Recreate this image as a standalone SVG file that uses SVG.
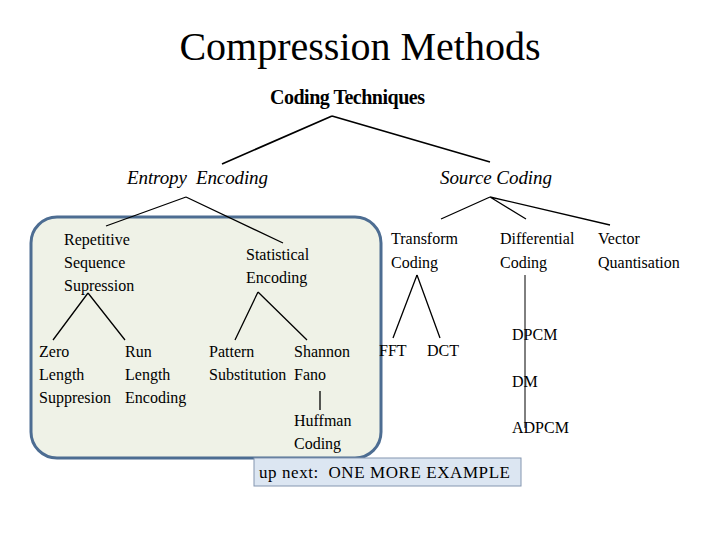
<svg xmlns="http://www.w3.org/2000/svg" width="720" height="540" viewBox="0 0 720 540">
<style>
.t{font-family:"Liberation Serif","Times New Roman",serif;font-size:16px;fill:#000}
.c{stroke:#000;stroke-width:1.3;fill:none}
</style>
<rect width="720" height="540" fill="#fff"/>
<text x="360" y="60" text-anchor="middle" style="font-family:'Liberation Serif','Times New Roman',serif;font-size:40px">Compression Methods</text>
<rect id="highlight" x="31" y="217" width="350" height="241" rx="26" fill="#eff2e7" stroke="#4d6d92" stroke-width="3"/>
<g id="connectors" class="c">
<path d="M332 116 L222 164 M332 116 L490 162" stroke-width="1.7"/>
<path d="M186 197 L106 226 M186 197 L283 243"/>
<path d="M490 197 L441 219 M490 197 L526 219 M490 197 L610 225"/>
<path d="M88 293 L53 340 M88 293 L125 340"/>
<path d="M258 292 L235 340 M258 292 L307 340"/>
<path d="M320 391 L320 410"/>
<path d="M417 275 L393 338 M417 275 L440 338"/>
<path d="M525 275 L525 428" stroke-width="1"/>
</g>
<g id="coding-techniques"><text class="t" x="270" y="104" style="font-weight:bold;font-size:20px" textLength="155">Coding Techniques</text></g>
<g id="entropy-encoding"><text class="t" x="127" y="184" style="font-style:italic;font-size:19px" textLength="141" xml:space="preserve">Entropy  Encoding</text></g>
<g id="source-coding"><text class="t" x="440" y="184" style="font-style:italic;font-size:19px" textLength="112">Source Coding</text></g>
<g id="repetitive"><text class="t" x="64" y="245">Repetitive</text><text class="t" x="64" y="268">Sequence</text><text class="t" x="64" y="291">Supression</text></g>
<g id="statistical"><text class="t" x="246" y="260">Statistical</text><text class="t" x="246" y="283">Encoding</text></g>
<g id="zero"><text class="t" x="39" y="357">Zero</text><text class="t" x="39" y="380">Length</text><text class="t" x="39" y="403">Suppresion</text></g>
<g id="run"><text class="t" x="125" y="357">Run</text><text class="t" x="125" y="380">Length</text><text class="t" x="125" y="403">Encoding</text></g>
<g id="pattern"><text class="t" x="209" y="357">Pattern</text><text class="t" x="209" y="380">Substitution</text></g>
<g id="shannon"><text class="t" x="294" y="357">Shannon</text><text class="t" x="294" y="380">Fano</text></g>
<g id="huffman"><text class="t" x="294" y="426">Huffman</text><text class="t" x="294" y="449">Coding</text></g>
<g id="transform"><text class="t" x="391" y="244">Transform</text><text class="t" x="391" y="268">Coding</text></g>
<g id="differential"><text class="t" x="500" y="244">Differential</text><text class="t" x="500" y="268">Coding</text></g>
<g id="vector"><text class="t" x="598" y="244">Vector</text><text class="t" x="598" y="268">Quantisation</text></g>
<g id="fft"><text class="t" x="379" y="356">FFT</text></g>
<g id="dct"><text class="t" x="427" y="356">DCT</text></g>
<g id="dpcm"><text class="t" x="512" y="340">DPCM</text></g>
<g id="dm"><text class="t" x="512" y="387">DM</text></g>
<g id="adpcm"><text class="t" x="512" y="433">ADPCM</text></g>
<g id="up-next">
<rect x="254" y="458" width="267" height="28" fill="#dce6f2" stroke="#8496b0" stroke-width="1"/>
<text class="t" x="259" y="478" style="font-size:17px" textLength="251" xml:space="preserve">up next:  ONE MORE EXAMPLE</text>
</g>
</svg>
